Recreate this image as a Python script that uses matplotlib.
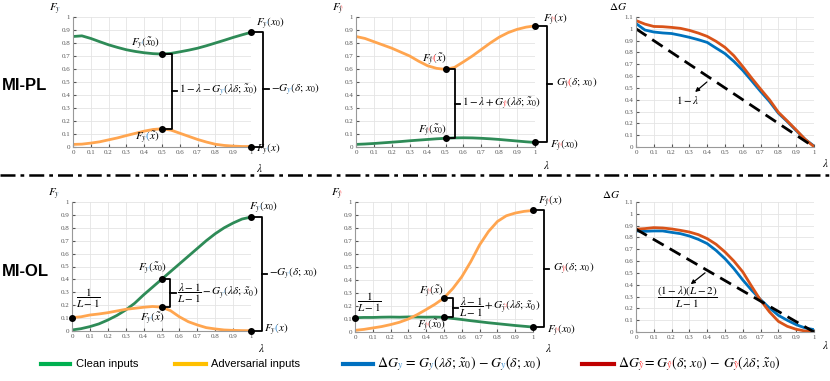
import numpy as np
import matplotlib
matplotlib.use('Agg')
import matplotlib.pyplot as plt
from matplotlib.ticker import FuncFormatter
from matplotlib.transforms import Bbox

plt.rcParams['mathtext.fontset'] = 'stix'
plt.rcParams['font.family'] = ['Liberation Serif', 'DejaVu Serif']

# lambda grid (step 0.05)
lam = np.round(np.arange(21) * 0.05, 2)

# MI-PL, true class y
pl_y_clean = [0.85, 0.855, 0.835, 0.81, 0.786, 0.766, 0.748, 0.735, 0.725, 0.718, 0.715,
              0.72, 0.732, 0.745, 0.76, 0.779, 0.80, 0.821, 0.843, 0.863, 0.882]
pl_y_adv = [0.02, 0.022, 0.03, 0.04, 0.055, 0.07, 0.088, 0.105, 0.122, 0.135, 0.14,
            0.13, 0.106, 0.082, 0.058, 0.038, 0.021, 0.012, 0.007, 0.004, 0.003]
# MI-PL, adversarial class y-hat
pl_yh_adv = [0.85, 0.835, 0.81, 0.785, 0.76, 0.73, 0.70, 0.66, 0.625, 0.605, 0.597,
             0.612, 0.655, 0.70, 0.75, 0.80, 0.845, 0.88, 0.905, 0.922, 0.932]
pl_yh_clean = [0.02, 0.023, 0.027, 0.032, 0.037, 0.042, 0.048, 0.053, 0.058, 0.063, 0.067,
               0.07, 0.071, 0.07, 0.067, 0.063, 0.058, 0.052, 0.046, 0.04, 0.035]
# MI-PL, delta G
pl_dg_y = [1.045, 0.99, 0.973, 0.965, 0.96, 0.945, 0.928, 0.908, 0.885, 0.837, 0.79,
           0.724, 0.648, 0.56, 0.47, 0.385, 0.286, 0.215, 0.139, 0.065, 0.008]
pl_dg_yh = [1.07, 1.04, 1.02, 1.018, 1.012, 1.004, 0.987, 0.964, 0.936, 0.894, 0.843,
            0.772, 0.68, 0.583, 0.49, 0.40, 0.294, 0.22, 0.144, 0.065, 0.003]
pl_ref_x = [0, 1]
pl_ref = [1.0, 0.0]

# MI-OL, true class y
ol_y_clean = [0.008, 0.018, 0.034, 0.055, 0.085, 0.12, 0.163, 0.215, 0.28, 0.34, 0.40,
              0.46, 0.52, 0.58, 0.64, 0.70, 0.754, 0.80, 0.837, 0.868, 0.883]
ol_y_adv = [0.104, 0.11, 0.124, 0.132, 0.142, 0.155, 0.168, 0.176, 0.184, 0.19, 0.185,
            0.158, 0.11, 0.072, 0.047, 0.026, 0.016, 0.008, 0.005, 0.003, 0.002]
# MI-OL, adversarial class y-hat
ol_yh_adv = [0.013, 0.02, 0.031, 0.042, 0.057, 0.075, 0.10, 0.134, 0.173, 0.214, 0.262,
             0.335, 0.425, 0.54, 0.67, 0.773, 0.85, 0.894, 0.915, 0.928, 0.935]
ol_yh_clean = [0.11, 0.112, 0.112, 0.114, 0.115, 0.114, 0.116, 0.115, 0.114, 0.115, 0.113,
               0.104, 0.096, 0.087, 0.079, 0.071, 0.064, 0.057, 0.05, 0.044, 0.038]
# MI-OL, delta G
ol_dg_y = [0.855, 0.852, 0.855, 0.855, 0.843, 0.832, 0.812, 0.784, 0.748, 0.69, 0.62,
           0.536, 0.44, 0.353, 0.274, 0.203, 0.141, 0.099, 0.062, 0.034, 0.02]
ol_dg_yh = [0.87, 0.875, 0.883, 0.88, 0.872, 0.86, 0.846, 0.824, 0.79, 0.742, 0.677,
            0.60, 0.508, 0.386, 0.268, 0.17, 0.09, 0.048, 0.023, 0.008, 0.003]
ol_ref_x = [0, 1]
ol_ref = [0.87, 0.0]

GREEN = '#2e8b57'
ORANGE = '#ffa54f'
BLUE = '#0072bd'
RED = '#d95319'
SUB_B = '#3d8fd1'
SUB_R = '#ff3b3b'

W, H = 830, 381
fig = plt.figure(figsize=(8.3, 3.81), dpi=100)
renderer = fig.canvas.get_renderer()


def px_axes(x0, x1, ytop, ybot):
    return fig.add_axes([x0 / W, 1 - ybot / H, (x1 - x0) / W, (ybot - ytop) / H])


def style(ax, ymax):
    ax.set_xlim(0, 1)
    ax.set_ylim(0, ymax)
    ax.set_xticks(np.round(np.arange(11) * 0.1, 1))
    ax.set_yticks(np.round(np.arange(int(round(ymax * 10)) + 1) * 0.1, 1))
    fmt = FuncFormatter(lambda v, p: f'{v:g}')
    ax.xaxis.set_major_formatter(fmt)
    ax.yaxis.set_major_formatter(fmt)
    ax.tick_params(labelsize=5, colors='#555555', length=2, direction='in', pad=2)
    ax.grid(color='#e4e4e4', lw=0.6)
    ax.set_axisbelow(True)
    for s in ['top', 'right']:
        ax.spines[s].set_visible(False)
    for s in ['left', 'bottom']:
        ax.spines[s].set_color('#999999')
        ax.spines[s].set_linewidth(0.8)


def mtext(ax, x, y, segs, size=8, ha='left', va='center'):
    # one mathtext string, drawn once per segment and clipped to that segment's
    # horizontal span, so that parts of it can carry their own colour
    full = '$' + ''.join(s for s, c in segs) + '$'
    probe = ax.text(x, y, full, fontsize=size, ha=ha, va=va)
    bb = probe.get_window_extent(renderer)
    prop = probe.get_fontproperties()
    probe.remove()
    cuts = [bb.x0 - 4]
    acc = ''
    for s, c in segs[:-1]:
        acc += s
        w = renderer.get_text_width_height_descent('$' + acc + '$', prop, ismath=True)[0]
        cuts.append(bb.x0 + w)
    cuts.append(bb.x1 + 4)
    for i, (s, c) in enumerate(segs):
        t = ax.text(x, y, full, fontsize=size, ha=ha, va=va, color=c)
        t.set_clip_box(Bbox([[cuts[i], bb.y0 - 4], [cuts[i + 1], bb.y1 + 4]]))
        t.set_clip_on(True)


def bracket(ax, x_pt, y_lo, y_hi, xb, tick=0.03):
    ax.plot([x_pt, xb, xb, x_pt], [y_hi, y_hi, y_lo, y_lo], color='k', lw=1.3, clip_on=False)
    ym = (y_lo + y_hi) / 2
    ax.plot([xb, xb + tick], [ym, ym], color='k', lw=1.3, clip_on=False)
    return ym


YB = ("_{y}", SUB_B)
YR = ("_{\\hat{y}}", SUB_R)


def F(sub, arg):
    return [("F", 'k'), sub, (f"({arg})", 'k')]


def dots(ax, xs, ys):
    ax.plot(xs, ys, 'o', color='k', ms=4, clip_on=False, zorder=5)


# ---------------- MI-PL, y ----------------
ax1 = px_axes(73, 251, 17, 147)
style(ax1, 1)
ax1.plot(lam, pl_y_clean, color=GREEN, lw=2)
ax1.plot(lam, pl_y_adv, color=ORANGE, lw=2)
dots(ax1, [0.5, 0.5, 1, 1], [pl_y_clean[10], pl_y_adv[10], pl_y_clean[-1], pl_y_adv[-1]])
m = bracket(ax1, 0.5, pl_y_adv[10], pl_y_clean[10], 0.557)
mtext(ax1, 0.595, m, [("1-\\lambda-G", 'k'), YB, ("(\\lambda\\delta;\\,\\tilde{x}_0)", 'k')])
m = bracket(ax1, 1, pl_y_adv[-1], pl_y_clean[-1], 1.07)
mtext(ax1, 1.11, m, [("-G", 'k'), YB, ("(\\delta;\\,x_0)", 'k')])
mtext(ax1, 0.41, 0.79, F(YB, "\\tilde{x}_0"), ha='center')
mtext(ax1, 0.42, 0.07, F(YB, "\\tilde{x}"), ha='center')
mtext(ax1, 1.03, 0.95, F(YB, "x_0"))
mtext(ax1, 1.03, -0.02, F(YB, "x"))
mtext(ax1, -0.1, 1.06, [("F", 'k'), YB], ha='center')
ax1.text(1.03, -0.165, '$\\lambda$', fontsize=8, va='center')

# ---------------- MI-PL, y-hat ----------------
ax2 = px_axes(356, 535, 17, 147)
style(ax2, 1)
ax2.plot(lam, pl_yh_clean, color=GREEN, lw=2)
ax2.plot(lam, pl_yh_adv, color=ORANGE, lw=2)
dots(ax2, [0.5, 0.5, 1, 1], [pl_yh_adv[10], pl_yh_clean[10], pl_yh_adv[-1], pl_yh_clean[-1]])
m = bracket(ax2, 0.5, pl_yh_clean[10], pl_yh_adv[10], 0.553)
mtext(ax2, 0.59, m, [("1-\\lambda+G", 'k'), YR, ("(\\lambda\\delta;\\,\\tilde{x}_0)", 'k')])
m = bracket(ax2, 1, pl_yh_clean[-1], pl_yh_adv[-1], 1.067)
mtext(ax2, 1.12, m, [("G", 'k'), YR, ("(\\delta;\\,x_0)", 'k')])
mtext(ax2, 0.44, 0.67, F(YR, "\\tilde{x}"), ha='center')
mtext(ax2, 0.43, 0.12, F(YR, "\\tilde{x}_0"), ha='center')
mtext(ax2, 1.045, 0.98, F(YR, "x"))
mtext(ax2, 1.085, 0.01, F(YR, "x_0"))
mtext(ax2, -0.1, 1.06, [("F", 'k'), YR], ha='center')
ax2.text(1.045, -0.14, '$\\lambda$', fontsize=8, va='center')

# ---------------- MI-PL, delta G ----------------
ax3 = px_axes(636, 814, 17, 147)
style(ax3, 1.1)
ax3.plot(lam, pl_dg_y, color=BLUE, lw=2)
ax3.plot(lam, pl_dg_yh, color=RED, lw=2)
ax3.plot(pl_ref_x, pl_ref, color='k', lw=2, ls=(0, (4.5, 2.5)))
ax3.annotate('', xy=(0.32, 0.45), xytext=(0.41, 0.565),
             arrowprops=dict(arrowstyle='-|>', color='k', lw=0.9, mutation_scale=6))
ax3.text(0.29, 0.40, '$1-\\lambda$', fontsize=8, ha='center', va='center')
ax3.text(-0.1, 1.19, '$\\Delta G$', fontsize=8, ha='center', va='center')
ax3.text(1.045, -0.135, '$\\lambda$', fontsize=8, va='center')

# ---------------- MI-OL, y ----------------
ax4 = px_axes(72, 251, 202, 331)
style(ax4, 1)
ax4.plot(lam, ol_y_clean, color=GREEN, lw=2)
ax4.plot(lam, ol_y_adv, color=ORANGE, lw=2)
dots(ax4, [0, 0.5, 0.5, 1, 1], [ol_y_adv[0], ol_y_clean[10], ol_y_adv[10], ol_y_clean[-1], ol_y_adv[-1]])
m = bracket(ax4, 0.5, ol_y_adv[10], ol_y_clean[10], 0.55)
mtext(ax4, 0.585, m, [("\\dfrac{\\lambda-1}{L-1}-G", 'k'), YB, ("(\\lambda\\delta;\\,\\tilde{x}_0)", 'k')])
m = bracket(ax4, 1, ol_y_adv[-1], ol_y_clean[-1], 1.06)
mtext(ax4, 1.1, m, [("-G", 'k'), YB, ("(\\delta;\\,x_0)", 'k')])
ax4.text(0.09, 0.255, '$\\dfrac{1}{L-1}$', fontsize=8, ha='center', va='center')
mtext(ax4, 0.45, 0.48, F(YB, "\\tilde{x}_0"), ha='center')
mtext(ax4, 0.45, 0.09, F(YB, "\\tilde{x}"), ha='center')
mtext(ax4, 0.99, 0.95, F(YB, "x_0"))
mtext(ax4, 1.075, 0.01, F(YB, "x"))
mtext(ax4, -0.1, 1.06, [("F", 'k'), YB], ha='center')
ax4.text(1.04, -0.13, '$\\lambda$', fontsize=8, va='center')

# ---------------- MI-OL, y-hat ----------------
ax5 = px_axes(355, 533, 202, 332)
style(ax5, 1)
ax5.plot(lam, ol_yh_clean, color=GREEN, lw=2)
ax5.plot(lam, ol_yh_adv, color=ORANGE, lw=2)
dots(ax5, [0, 0.5, 0.5, 1, 1], [ol_yh_clean[0], ol_yh_adv[10], ol_yh_clean[10], ol_yh_adv[-1], ol_yh_clean[-1]])
m = bracket(ax5, 0.5, ol_yh_clean[10], ol_yh_adv[10], 0.55)
mtext(ax5, 0.585, m, [("\\dfrac{\\lambda-1}{L-1}+G", 'k'), YR, ("(\\lambda\\delta;\\,\\tilde{x}_0)", 'k')])
m = bracket(ax5, 1, ol_yh_clean[-1], ol_yh_adv[-1], 1.06)
mtext(ax5, 1.11, m, [("G", 'k'), YR, ("(\\delta;\\,x_0)", 'k')])
ax5.text(0.08, 0.23, '$\\dfrac{1}{L-1}$', fontsize=8, ha='center', va='center')
mtext(ax5, 0.43, 0.31, F(YR, "\\tilde{x}"), ha='center')
mtext(ax5, 0.43, 0.045, F(YR, "\\tilde{x}_0"), ha='center')
mtext(ax5, 1.03, 1.0, F(YR, "x"))
mtext(ax5, 1.08, 0.01, F(YR, "x_0"))
mtext(ax5, -0.1, 1.06, [("F", 'k'), YR], ha='center')
ax5.text(1.07, -0.12, '$\\lambda$', fontsize=8, va='center')

# ---------------- MI-OL, delta G ----------------
ax6 = px_axes(636, 814, 202, 332)
style(ax6, 1.1)
ax6.plot(lam, ol_dg_y, color=BLUE, lw=2)
ax6.plot(lam, ol_dg_yh, color=RED, lw=2)
ax6.plot(ol_ref_x, ol_ref, color='k', lw=2, ls=(0, (4.5, 2.5)))
ax6.annotate('', xy=(0.295, 0.39), xytext=(0.40, 0.515),
             arrowprops=dict(arrowstyle='-|>', color='k', lw=0.9, mutation_scale=6))
ax6.text(0.29, 0.29, '$\\dfrac{(1-\\lambda)(L-2)}{L-1}$', fontsize=8, ha='center', va='center')
ax6.text(-0.14, 1.16, '$\\Delta G$', fontsize=8, ha='center', va='center')
ax6.text(1.045, -0.11, '$\\lambda$', fontsize=8, va='center')

# ---------------- overlay: row labels, separator, legend ----------------
lax = fig.add_axes([0, 0, 1, 1], zorder=-1)
lax.set_xlim(0, W)
lax.set_ylim(H, 0)
lax.axis('off')
lax.text(25, 86, 'MI-PL', ha='center', va='center', fontsize=12, fontweight='bold',
         family='Liberation Sans')
lax.text(25, 271, 'MI-OL', ha='center', va='center', fontsize=12, fontweight='bold',
         family='Liberation Sans')
lax.plot([0, W], [175, 175], color='k', lw=1.8, ls=(0, (6, 2, 1.5, 2)))

leg_y = 364
lax.plot([41, 70], [leg_y, leg_y], color='#00b050', lw=3)
lax.text(76, leg_y, 'Clean inputs', va='center', fontsize=8, family='Liberation Sans')
lax.plot([175, 206], [leg_y, leg_y], color='#ffc000', lw=3)
lax.text(211, leg_y, 'Adversarial inputs', va='center', fontsize=8, family='Liberation Sans')
lax.plot([343, 373], [leg_y, leg_y], color='#0070c0', lw=3)
mtext(lax, 377, leg_y, [("\\Delta G", 'k'), YB, ("\\,=\\,G", 'k'), YB,
                        ("(\\lambda\\delta;\\,\\tilde{x}_0)\\,-G", 'k'), YB, ("(\\delta;\\,x_0)", 'k')],
      size=10)
lax.plot([582, 614], [leg_y, leg_y], color='#c00000', lw=3)
mtext(lax, 618, leg_y, [("\\Delta G", 'k'), YR, ("=G", 'k'), YR,
                        ("(\\delta;\\,x_0)\\,-\\,G", 'k'), YR, ("(\\lambda\\delta;\\,\\tilde{x}_0)", 'k')],
      size=10)

fig.savefig('out.png', dpi=100)
